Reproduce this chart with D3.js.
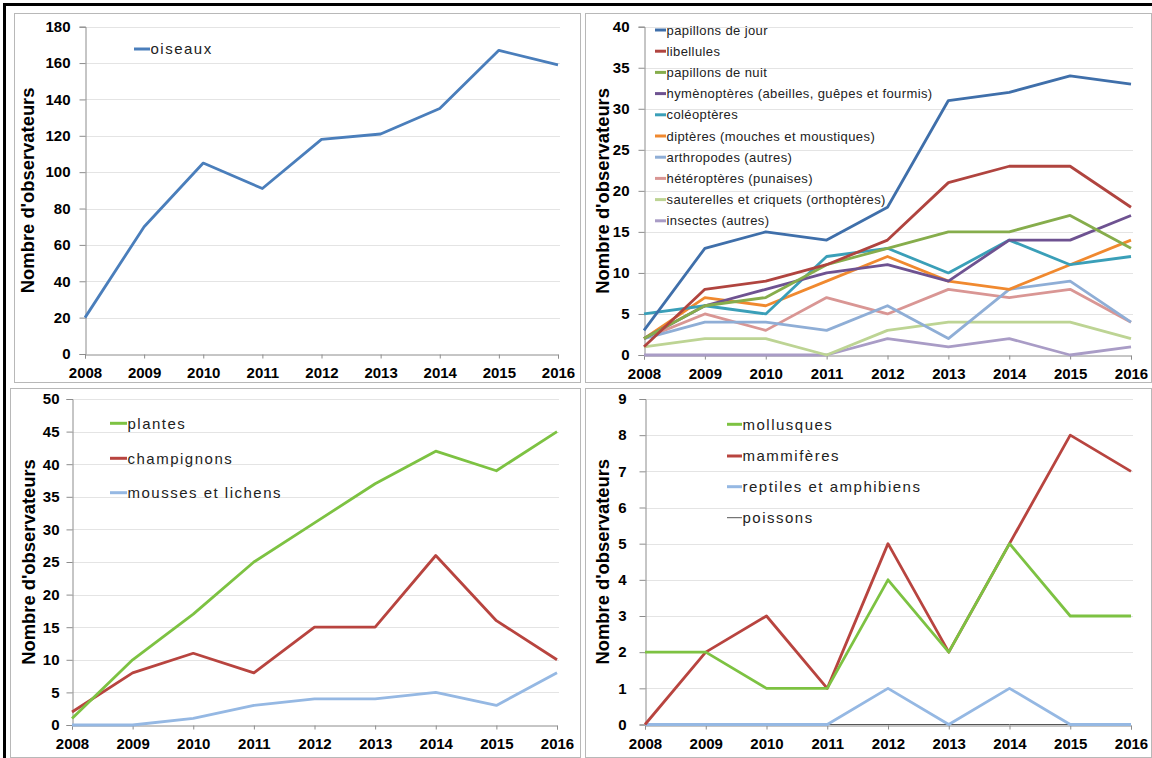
<!DOCTYPE html>
<html>
<head>
<meta charset="utf-8">
<script src="https://cdn.jsdelivr.net/npm/d3@7"></script>
<style>
  html, body { margin: 0; padding: 0; background: #fff; }
  svg { display: block; }
  text { font-family: "Liberation Sans", Arial, sans-serif; }
</style>
</head>
<body>
<svg id="chart" width="1152" height="758"></svg>
<script>
// ---------- DATA ----------
const years = [2008, 2009, 2010, 2011, 2012, 2013, 2014, 2015, 2016];
const yTitle = "Nombre d'observateurs";

// Panel 1 : oiseaux
const oiseaux = [20, 70, 105, 91, 118, 121, 135, 167, 159];
const ticksOiseaux = [0, 20, 40, 60, 80, 100, 120, 140, 160, 180];

// Panel 2 : insectes et arthropodes
const papillonsJour = [3, 13, 15, 14, 18, 31, 32, 34, 33];
const libellules = [1, 8, 9, 11, 14, 21, 23, 23, 18];
const papillonsNuit = [2, 6, 7, 11, 13, 15, 15, 17, 13];
const hymenopteres = [2, 6, 8, 10, 11, 9, 14, 14, 17];
const coleopteres = [5, 6, 5, 12, 13, 10, 14, 11, 12];
const dipteres = [2, 7, 6, 9, 12, 9, 8, 11, 14];
const arthropodes = [2, 4, 4, 3, 6, 2, 8, 9, 4];
const heteropteres = [2, 5, 3, 7, 5, 8, 7, 8, 4];
const sauterelles = [1, 2, 2, 0, 3, 4, 4, 4, 2];
const insectesAutres = [0, 0, 0, 0, 2, 1, 2, 0, 1];
const ticksInsectes = [0, 5, 10, 15, 20, 25, 30, 35, 40];

// Panel 3 : flore et fonge
const plantes = [1, 10, 17, 25, 31, 37, 42, 39, 45];
const champignons = [2, 8, 11, 8, 15, 15, 26, 16, 10];
const mousses = [0, 0, 1, 3, 4, 4, 5, 3, 8];
const ticksFlore = [0, 5, 10, 15, 20, 25, 30, 35, 40, 45, 50];

// Panel 4 : autres animaux
const mollusques = [2, 2, 1, 1, 4, 2, 5, 3, 3];
const mammiferes = [0, 2, 3, 1, 5, 2, 5, 8, 7];
const reptiles = [0, 0, 0, 0, 1, 0, 1, 0, 0];
const poissons = [0, 0, 0, 0, 0, 0, 0, 0, 0];
const ticksAutres = [0, 1, 2, 3, 4, 5, 6, 7, 8, 9];

// ---------- PANELS (data + layout) ----------
const panels = [
  {
    box: [14, 13, 580, 382], x0: 85, x1: 558, yTop: 26.7, yBot: 354, yMax: 180, ticks: ticksOiseaux,
    tickRight: 70, xLabelBase: 377, titleX: 28, legendX: 134, legendLine: 16, legendY: [49],
    legendFont: 15, legendLS: 1.5,
    series: [{ name: "oiseaux", values: oiseaux, color: "#4A7EBB", w: 2.8 }]
  },
  {
    box: [585, 13, 1151, 382], x0: 644, x1: 1131, yTop: 26.7, yBot: 355, yMax: 40, ticks: ticksInsectes,
    tickRight: 629, xLabelBase: 378, titleX: 603, legendX: 655, legendLine: 11,
    legendY: [30, 51.2, 72.4, 93.6, 114.8, 136, 157.2, 178.4, 199.6, 220.8],
    legendFont: 13, legendLS: 0.4,
    series: [
      { name: "papillons de jour", values: papillonsJour, color: "#3F6FAA", w: 2.8 },
      { name: "libellules", values: libellules, color: "#B0443F", w: 2.8 },
      { name: "papillons de nuit", values: papillonsNuit, color: "#86AD4C", w: 2.8 },
      { name: "hymènoptères (abeilles, guêpes et fourmis)", values: hymenopteres, color: "#6E5291", w: 2.8 },
      { name: "coléoptères", values: coleopteres, color: "#3A9FB8", w: 2.8 },
      { name: "diptères (mouches et moustiques)", values: dipteres, color: "#F0892F", w: 2.8 },
      { name: "arthropodes (autres)", values: arthropodes, color: "#8FAED6", w: 2.8 },
      { name: "hétéroptères (punaises)", values: heteropteres, color: "#D99694", w: 2.8 },
      { name: "sauterelles et criquets (orthoptères)", values: sauterelles, color: "#BDD494", w: 2.8 },
      { name: "insectes (autres)", values: insectesAutres, color: "#A99CC6", w: 2.8 }
    ]
  },
  {
    box: [10, 388, 580, 757], x0: 72, x1: 557, yTop: 399, yBot: 725, yMax: 50, ticks: ticksFlore,
    tickRight: 59, xLabelBase: 748, titleX: 29, legendX: 110, legendLine: 17, legendY: [423.3, 458.3, 492.7],
    legendFont: 15, legendLS: 1.5,
    series: [
      { name: "plantes", values: plantes, color: "#7DC242", w: 2.8 },
      { name: "champignons", values: champignons, color: "#B8443F", w: 2.8 },
      { name: "mousses et lichens", values: mousses, color: "#95B8E3", w: 2.8 }
    ]
  },
  {
    box: [585, 388, 1151, 757], x0: 645, x1: 1131, yTop: 399, yBot: 724.5, yMax: 9, ticks: ticksAutres,
    tickRight: 626, xLabelBase: 748, titleX: 603, legendX: 727, legendLine: 15,
    legendY: [424.3, 456, 486.7, 517.7],
    legendFont: 15, legendLS: 1.5,
    series: [
      { name: "mollusques", values: mollusques, color: "#7DC242", w: 2.8 },
      { name: "mammifères", values: mammiferes, color: "#B8443F", w: 2.8 },
      { name: "reptiles et amphibiens", values: reptiles, color: "#95B8E3", w: 2.8 },
      { name: "poissons", values: poissons, color: "#555555", w: 1 }
    ]
  }
];

// ---------- DRAW ----------
const svg = d3.select("#chart");
svg.append("rect").attr("width", 1152).attr("height", 758).attr("fill", "#fff");

panels.forEach(p => {
  const g = svg.append("g");
  // panel border
  g.append("rect")
    .attr("x", p.box[0] + 0.5).attr("y", p.box[1] + 0.5)
    .attr("width", p.box[2] - p.box[0]).attr("height", p.box[3] - p.box[1])
    .attr("fill", "#fff").attr("stroke", "#b8b8b8").attr("stroke-width", 1);

  const x = d3.scalePoint().domain(years).range([p.x0, p.x1]);
  const y = d3.scaleLinear().domain([0, p.yMax]).range([p.yBot, p.yTop]);

  // gridlines
  g.append("g").selectAll("line").data(p.ticks.filter(t => t > 0)).join("line")
    .attr("x1", p.x0).attr("x2", p.x1 + 2)
    .attr("y1", d => Math.round(y(d)) + 0.5).attr("y2", d => Math.round(y(d)) + 0.5)
    .attr("stroke", "#e4e4e4").attr("stroke-width", 1);

  // y axis
  const yAxis = d3.axisLeft(y).tickValues(p.ticks).tickSize(6).tickPadding(p.x0 - 6 - p.tickRight);
  const gy = g.append("g").attr("transform", `translate(${Math.round(p.x0) + 0.5},0)`).call(yAxis);
  gy.select(".domain").attr("stroke", "#8c8c8c");
  gy.selectAll(".tick line").attr("stroke", "#8c8c8c");
  gy.selectAll(".tick text")
    .attr("font-family", "'Liberation Sans', Arial, sans-serif")
    .attr("font-size", 15).attr("font-weight", "bold").attr("fill", "#000");

  // x axis
  const xAxis = d3.axisBottom(x).tickSize(4).tickPadding(0).tickFormat(d3.format("d"));
  const gx = g.append("g").attr("transform", `translate(0,${Math.round(p.yBot) + 0.5})`).call(xAxis);
  gx.select(".domain").attr("stroke", "#8c8c8c");
  gx.selectAll(".tick line").attr("stroke", "#8c8c8c");
  gx.selectAll(".tick text")
    .attr("font-family", "'Liberation Sans', Arial, sans-serif")
    .attr("font-size", 15).attr("font-weight", "bold").attr("fill", "#000")
    .attr("dy", null)
    .attr("y", p.xLabelBase - Math.round(p.yBot))
    .attr("dominant-baseline", "alphabetic");

  // y title
  g.append("text")
    .attr("transform", `translate(${p.titleX + 6},${(p.yTop + p.yBot) / 2}) rotate(-90)`)
    .attr("text-anchor", "middle")
    .attr("font-size", 18.4).attr("font-weight", "bold").attr("fill", "#000")
    .text(yTitle);

  // lines
  const line = d3.line().x((d, i) => x(years[i])).y(d => y(d));
  g.append("g").selectAll("path").data(p.series.slice().reverse()).join("path")
    .attr("d", s => line(s.values))
    .attr("fill", "none")
    .attr("stroke", s => s.color)
    .attr("stroke-width", s => s.w)
    .attr("stroke-linejoin", "round");

  // legend
  const lg = g.append("g");
  p.series.forEach((s, i) => {
    const ly = p.legendY[i];
    lg.append("line")
      .attr("x1", p.legendX).attr("x2", p.legendX + p.legendLine)
      .attr("y1", ly).attr("y2", ly)
      .attr("stroke", s.color).attr("stroke-width", s.w === 1 ? 1 : 3);
    lg.append("text")
      .attr("x", p.legendX + p.legendLine + 0.5).attr("y", ly + p.legendFont * 0.36)
      .attr("font-size", p.legendFont).attr("letter-spacing", p.legendLS)
      .attr("fill", "#222")
      .text(s.name);
  });
});

// outer black frame (left and top edges)
svg.append("line").attr("x1", 3).attr("x2", 1152).attr("y1", 4.5).attr("y2", 4.5).attr("stroke", "#000").attr("stroke-width", 3);
svg.append("line").attr("x1", 4.5).attr("x2", 4.5).attr("y1", 3).attr("y2", 758).attr("stroke", "#000").attr("stroke-width", 3);
</script>
</body>
</html>
